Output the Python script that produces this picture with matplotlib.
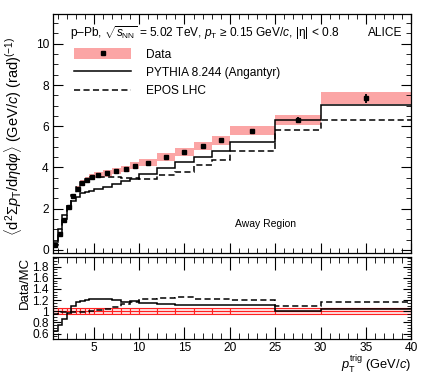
import numpy as np
import matplotlib
matplotlib.use('Agg')
from matplotlib import pyplot as plt
from matplotlib.ticker import MultipleLocator, FixedLocator
from matplotlib.patches import Patch
from matplotlib.lines import Line2D

plt.rcParams['font.family'] = ['Liberation Sans', 'DejaVu Sans']
plt.rcParams['mathtext.fontset'] = 'custom'
plt.rcParams['mathtext.rm'] = 'Liberation Sans'
plt.rcParams['mathtext.it'] = 'Liberation Sans:italic'
plt.rcParams['mathtext.bf'] = 'Liberation Sans:bold'

# pT trig bins (GeV/c)
edges = [0.5, 1.0, 1.5, 2.0, 2.5, 3.0, 3.5, 4.0, 4.5, 5.0, 6.0, 7.0, 8.0, 9.0, 10.0,
         12.0, 14.0, 16.0, 18.0, 20.0, 25.0, 30.0, 40.0]
data = [0.24, 0.76, 1.46, 2.10, 2.62, 2.98, 3.24, 3.40, 3.53, 3.62, 3.72, 3.83, 3.93,
        4.08, 4.24, 4.50, 4.74, 5.05, 5.32, 5.79, 6.31, 7.36]
data_stat = [0, 0, 0, 0, 0, 0, 0, 0, 0, 0, 0, 0, 0, 0, 0, 0, 0, 0, 0, 0.05, 0.12, 0.22]
data_sys = [0.01, 0.03, 0.06, 0.09, 0.11, 0.13, 0.14, 0.15, 0.15, 0.15, 0.16, 0.16, 0.16,
            0.17, 0.17, 0.18, 0.19, 0.20, 0.21, 0.23, 0.25, 0.30]
pythia = [0.37, 1.00, 1.68, 2.15, 2.38, 2.55, 2.75, 2.82, 2.88, 2.95, 3.06, 3.20, 3.35,
          3.45, 3.70, 3.99, 4.25, 4.53, 4.80, 5.22, 6.31, 7.04]
epos = [0.25, 0.77, 1.48, 2.13, 2.67, 3.03, 3.28, 3.42, 3.53, 3.55, 3.55, 3.55, 3.50,
        3.48, 3.46, 3.63, 3.80, 4.14, 4.38, 4.80, 5.80, 6.30]

edges = np.array(edges)
data = np.array(data)
centers = 0.5 * (edges[1:] + edges[:-1])
widths = np.diff(edges)
rel_sys = np.array(data_sys) / data

fig = plt.figure(figsize=(4.31, 3.76), dpi=100)
ax = fig.add_axes([0.123, 0.327, 0.831, 0.636])
axr = fig.add_axes([0.123, 0.098, 0.831, 0.218])

pink = '#fba5a5'

# main panel
ax.bar(centers, 2 * np.array(data_sys), width=widths, bottom=data - np.array(data_sys),
       color=pink, lw=0, zorder=1)
ax.stairs(pythia, edges, baseline=None, color='k', lw=1.1, zorder=2)
ax.stairs(epos, edges, baseline=None, color='k', lw=1.1, ls=(0, (4, 2.2)), zorder=2)
ax.errorbar(centers, data, yerr=data_stat, fmt='s', color='k', ms=3.4, elinewidth=1.3,
            capsize=0, zorder=3)

ax.set_xlim(0.5, 40)
ax.set_ylim(-0.15, 11.45)
ax.xaxis.set_major_locator(MultipleLocator(5))
ax.xaxis.set_minor_locator(MultipleLocator(1))
ax.yaxis.set_major_locator(MultipleLocator(2))
ax.yaxis.set_minor_locator(MultipleLocator(0.5))
ax.tick_params(which='both', direction='in', top=True, right=True, labelsize=8.6, pad=3)
ax.tick_params(which='major', length=7)
ax.tick_params(which='minor', length=3.5)
ax.tick_params(axis='x', labelbottom=False)
ax.set_ylabel(r'$\langle\mathrm{d}^{2}\Sigma p_{\mathrm{T}}/\mathrm{d}\eta\mathrm{d}\varphi\rangle$ (GeV/$c$) (rad)$^{(-1)}$',
              fontsize=10.5)
ax.yaxis.set_label_coords(-0.082, 0.49)

fig.text(0.162, 0.912, r'p–Pb, $\sqrt{s_{\mathrm{NN}}}$ = 5.02 TeV, $p_{\mathrm{T}}$ ≥ 0.15 GeV/$c$, |η| < 0.8',
         fontsize=8.6, va='center')
fig.text(0.854, 0.912, 'ALICE', fontsize=8.6, va='center')
ax.text(23.9, 1.26, 'Away Region', fontsize=7.5, ha='center', va='center')

h_data = (Patch(facecolor=pink, lw=0),
          Line2D([], [], marker='s', color='k', ms=3.4, ls='none'))
h_py = Line2D([], [], color='k', lw=1.1)
h_ep = Line2D([], [], color='k', lw=1.1, ls=(0, (4, 2.2)))
ax.legend([h_data, h_py, h_ep], ['Data', 'PYTHIA 8.244 (Angantyr)', 'EPOS LHC'],
          loc='upper left', bbox_to_anchor=(0.172, 0.872), bbox_transform=fig.transFigure,
          frameon=False, fontsize=8.6, handlelength=4.8, handleheight=1.0,
          handletextpad=1.2, labelspacing=0.5, borderpad=0, borderaxespad=0)

# ratio panel
axr.bar(centers, 2 * rel_sys * 1.3, width=widths, bottom=1 - rel_sys * 1.3, facecolor='#fde0e0',
        edgecolor='#ff2020', lw=0.8, zorder=1)
axr.stairs(np.ones(len(data)), edges, baseline=None, color='#ff2020', lw=0.8, zorder=1)
axr.stairs(data / np.array(pythia), edges, baseline=None, color='k', lw=1.1, zorder=2)
axr.stairs(data / np.array(epos), edges, baseline=None, color='k', lw=1.1,
           ls=(0, (4, 2.2)), zorder=2)

axr.set_xlim(0.5, 40)
axr.set_ylim(0.5, 1.97)
axr.xaxis.set_major_locator(MultipleLocator(5))
axr.xaxis.set_minor_locator(MultipleLocator(1))
axr.yaxis.set_major_locator(FixedLocator([0.6, 0.8, 1.0, 1.2, 1.4, 1.6, 1.8]))
axr.yaxis.set_minor_locator(MultipleLocator(0.05))
axr.tick_params(which='both', direction='in', top=True, right=True, labelsize=8.6, pad=3)
axr.tick_params(axis='x', which='both', pad=2)
axr.tick_params(axis='x', which='major', length=9)
axr.tick_params(axis='x', which='minor', length=4.5)
axr.tick_params(axis='y', which='major', length=6)
axr.tick_params(axis='y', which='minor', length=3)
axr.set_yticklabels(['0.6', '0.8', '1', '1.2', '1.4', '1.6', '1.8'])
axr.set_ylabel('Data/MC', fontsize=9.5, loc='top')
axr.yaxis.set_label_coords(-0.062, 1.0)
axr.set_xlabel(r'$p_{\mathrm{T}}^{\mathrm{trig}}$ (GeV/$c$)', fontsize=9.3, loc='right')
axr.xaxis.set_label_coords(1.0, -0.17)
axr.xaxis.label.set_va('top')

for a in (ax, axr):
    for s in a.spines.values():
        s.set_linewidth(0.9)

fig.savefig('out.png', dpi=100)
